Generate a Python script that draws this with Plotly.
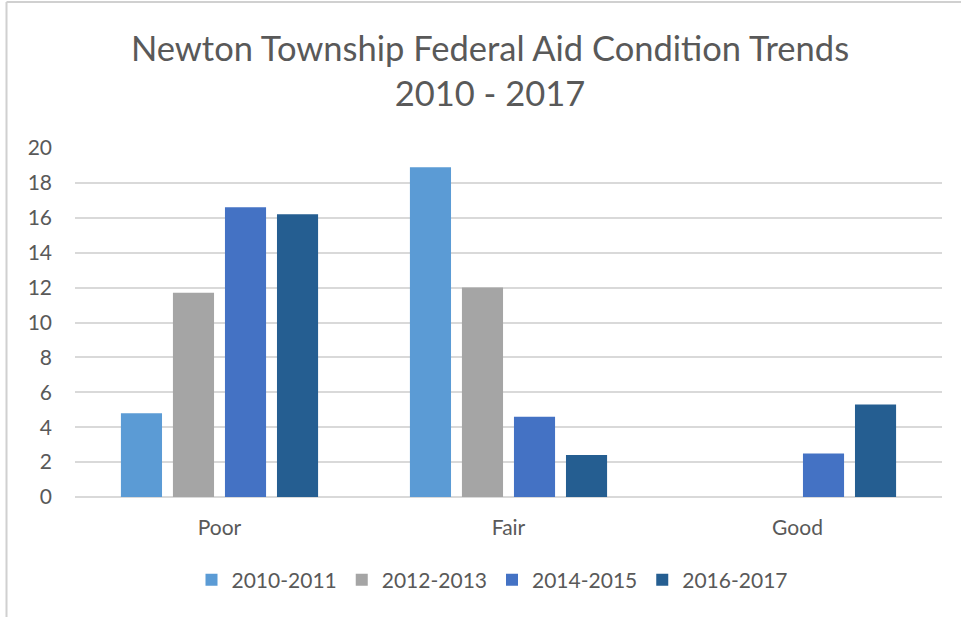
import plotly.graph_objects as go

categories = ["Poor", "Fair", "Good"]
series_names = ["2010-2011", "2012-2013", "2014-2015", "2016-2017"]
v_2010_2011 = [4.8, 18.9, 0]
v_2012_2013 = [11.7, 12.0, 0]
v_2014_2015 = [16.6, 4.6, 2.5]
v_2016_2017 = [16.2, 2.4, 5.3]
colors = ["#5B9BD5", "#A5A5A5", "#4472C4", "#255E91"]
y_ticks = [0, 2, 4, 6, 8, 10, 12, 14, 16, 18, 20]

values = [v_2010_2011, v_2012_2013, v_2014_2015, v_2016_2017]

FONT = "Lato, Carlito, Calibri, sans-serif"
TXT = "#595959"

fig = go.Figure()
for name, vals, c in zip(series_names, values, colors):
    fig.add_trace(go.Bar(x=categories, y=vals, name=name, marker=dict(color=c, line=dict(width=0))))

W, H = 961, 617
L, R, T, B = 75, 19, 148, 120
pw = W - L - R
ph = H - T - B

def px_x(x):
    return (x - L) / pw

def px_y(y):
    return (H - B - y) / ph

fig.update_layout(
    width=W, height=H,
    margin=dict(l=L, r=R, t=T, b=B),
    paper_bgcolor="white", plot_bgcolor="white",
    barmode="group", bargap=0.28, bargroupgap=0.21,
    font=dict(family=FONT, color=TXT, size=21),
    title=dict(text="Newton Township Federal Aid Condition Trends<br>2010 - 2017",
               x=490 / W, xref="container", xanchor="center",
               y=1 - 61 / H, yref="container", yanchor="middle",
               font=dict(family=FONT, size=34.5, color=TXT)),
    legend=dict(orientation="h", x=px_x(492), xanchor="center", y=px_y(580), yanchor="middle",
                font=dict(family=FONT, size=21, color=TXT), itemwidth=30, traceorder="normal"),
    showlegend=True,
)
fig.update_xaxes(showgrid=False, showline=False, ticks="", tickfont=dict(size=21, color=TXT),
                 ticklabelstandoff=16)
fig.update_yaxes(range=[0, 20], tickvals=y_ticks, showgrid=True, gridcolor="#D9D9D9", gridwidth=1.5,
                 zeroline=True, zerolinecolor="#D9D9D9", zerolinewidth=1.5, showline=False,
                 ticks="", tickfont=dict(size=21, color=TXT), ticklabelstandoff=22)

# frame border of the original screenshot
fig.add_shape(type="line", xref="paper", yref="paper", x0=px_x(6.5), x1=px_x(6.5), y0=px_y(617), y1=px_y(2),
              line=dict(color="#D0D0D0", width=2))
fig.add_shape(type="line", xref="paper", yref="paper", x0=px_x(6.5), x1=px_x(961), y0=px_y(2), y1=px_y(2),
              line=dict(color="#D0D0D0", width=2))

fig.write_html("out.html", config={"displayModeBar": False},
               post_script="document.body.style.margin='0';")
